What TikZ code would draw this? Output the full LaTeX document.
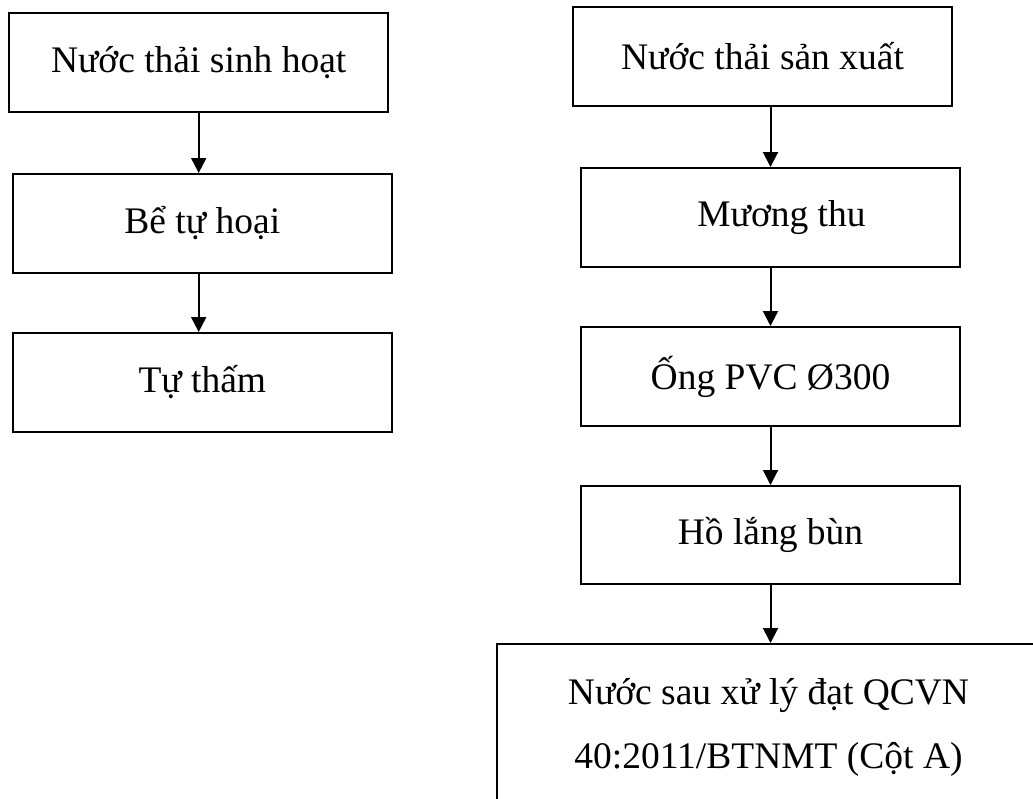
\documentclass[tikz,border=0pt]{standalone}
\usepackage{fontspec}
\setmainfont{Liberation Serif}
\usetikzlibrary{arrows.meta}
\begin{document}
\begin{tikzpicture}[x=1pt,y=-1pt,
  boxstyle/.style={draw=black, line width=2pt, rectangle, inner sep=0pt,
    font=\fontsize{37.5}{64}\selectfont, align=center},
  arr/.style={line width=2pt, -{Triangle[length=15pt,width=15pt]}}]
\useasboundingbox (0,0) rectangle (1033,798);
% left column
\node[boxstyle, minimum width=378.7pt, minimum height=99pt] (L1) at (198.7,62.5) {Nước thải sinh hoạt};
\node[boxstyle, minimum width=379.3pt, minimum height=99pt] (L2) at (202.3,223.5) {Bể tự hoại};
\node[boxstyle, minimum width=379.3pt, minimum height=99pt] (L3) at (202.3,382.5) {Tự thấm};
\draw[arr] (L1.south) -- (L1.south |- L2.north);
\draw[arr] (L1.south |- L2.south) -- (L1.south |- L3.north);
% right column
\node[boxstyle, minimum width=379pt, minimum height=99pt] (R1) at (762.5,56.5) {Nước thải sản xuất};
\node[boxstyle, minimum width=379pt, minimum height=99pt] (R2) at (770.5,217.5) {\hspace*{22pt}Mương thu};
\node[boxstyle, minimum width=379pt, minimum height=99pt] (R3) at (770.5,376.5) {Ống PVC Ø300};
\node[boxstyle, minimum width=379pt, minimum height=98pt] (R4) at (770.5,535) {Hồ lắng bùn};
\node[boxstyle, minimum width=543pt, minimum height=166pt] (R5) at (768.5,727) {Nước sau xử lý đạt QCVN\\40:2011/BTNMT (Cột A)};
\draw[arr] (R2.north |- R1.south) -- (R2.north);
\draw[arr] (R2.south) -- (R3.north);
\draw[arr] (R3.south) -- (R4.north);
\draw[arr] (R4.south) -- (R4.south |- R5.north);
\end{tikzpicture}
\end{document}
